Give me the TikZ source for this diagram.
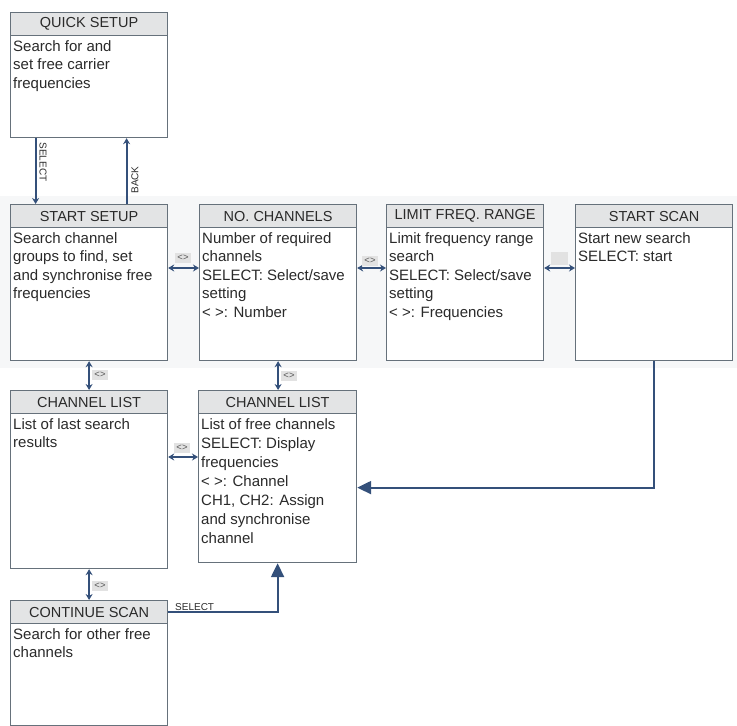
\documentclass[tikz,border=0pt]{standalone}
\usepackage{fontspec}
\setmainfont{Liberation Sans}
\usetikzlibrary{arrows.meta,calc}
\definecolor{bord}{HTML}{66717B}
\definecolor{hdr}{HTML}{E3E4E5}
\definecolor{arr}{HTML}{34507A}
\definecolor{bgband}{HTML}{F6F7F8}
\definecolor{lbl}{HTML}{E2E2E2}
\definecolor{txt}{HTML}{2A2A2A}
\newcommand\mypanel[7]{%
  \node[panel,minimum width=#4pt,minimum height=#5pt] (#1) at (#2,#3) {};
  \node[hd,minimum width=#4pt] (#1h) at (#1.north west) {#6};
  \node[bd] (#1b) at (#1h.south west) {#7};
}
\begin{document}
\begin{tikzpicture}[x=1pt,y=-1pt,
  panel/.style={draw=bord,line width=1.2pt,fill=white,anchor=north west,inner sep=0pt},
  hd/.style={draw=bord,line width=1.2pt,fill=hdr,anchor=north west,minimum height=23pt,inner sep=0pt,font=\fontsize{14.5}{16}\selectfont,text=txt},
  bd/.style={anchor=north west,align=left,inner xsep=3pt,inner ysep=4pt,font=\fontsize{15}{18.5}\selectfont,text=txt},
  dbl/.style={{Stealth[length=6pt,width=7pt]}-{Stealth[length=6pt,width=7pt]},line width=2pt,draw=arr},
  sgl/.style={-{Stealth[length=6pt,width=7pt]},line width=2pt,draw=arr},
  big/.style={-{Triangle[length=14pt,width=13pt]},line width=2.2pt,draw=arr},
  tag/.style={fill=lbl,inner xsep=2pt,inner ysep=2pt,font=\fontsize{9.5}{10}\selectfont,text=black!65},
  small/.style={inner sep=0pt,font=\fontsize{10}{11}\selectfont,text=txt}
]
\useasboundingbox (0,0) rectangle (737,726);
\fill[bgband] (0,196) rectangle (737,368);

\mypanel{qs}{10}{12}{157}{125}{QUICK SETUP}{Search for and\\set free carrier\\frequencies}
\mypanel{ss}{10}{204}{157}{156}{START SETUP}{Search channel\\groups to find, set\\and synchronise free\\frequencies}
\mypanel{nc}{199}{204}{157}{156}{NO. CHANNELS}{Number of required\\channels\\SELECT: Select/save\\setting\\< >: Number}
\mypanel{lf}{386}{204}{157}{156}{LIMIT FREQ. RANGE}{Limit frequency range\\search\\SELECT: Select/save\\setting\\< >: Frequencies}
\mypanel{sc}{575}{204}{157}{156}{START SCAN}{Start new search\\SELECT: start}
\mypanel{cla}{10}{390}{157}{178}{CHANNEL LIST}{List of last search\\results}
\node[panel,minimum width=158pt,minimum height=172pt] (clb) at (198,390) {};
\node[hd,minimum width=158pt] (clbh) at (clb.north west) {CHANNEL LIST};
\node[bd,font=\fontsize{15}{19}\selectfont] (clbb) at (clbh.south west) {List of free channels\\SELECT: Display\\frequencies\\< >: Channel\\CH1, CH2: Assign\\and synchronise\\channel};
\mypanel{cs}{10}{600}{157}{125}{CONTINUE SCAN}{Search for other free\\channels}

% quick setup <-> start setup
\draw[sgl] ([xshift=-53.5pt]qs.south) -- ([xshift=-53.5pt]ss.north);
\draw[sgl] ([xshift=37.5pt]ss.north) -- ([xshift=37.5pt]qs.south);
\node[small,rotate=-90] (lsel) at (43,162) {SELECT};
\node[small,rotate=90] (lback) at (135,180) {BACK};

% horizontal double arrows in first row
\draw[dbl] ([yshift=-64pt]ss.north east) -- ([yshift=-64pt]nc.north west);
\node[tag] (t1) at (183,258) {<>};
\draw[dbl] ([yshift=-64pt]nc.north east) -- ([yshift=-64pt]lf.north west);
\node[tag] (t2) at (370,261) {<>};
\draw[dbl] ([yshift=-64pt]lf.north east) -- ([yshift=-64pt]sc.north west);
\node[fill=lbl,minimum width=17pt,minimum height=13pt,inner sep=0pt] (t3) at (559,258) {};

% vertical double arrows
\draw[dbl] (ss.south) -- (cla.north);
\node[tag] (t4) at (100,375) {<>};
\draw[dbl] (nc.south) -- (nc.south |- clb.north);
\node[tag] (t5) at (289,376) {<>};
\draw[dbl] (cla.east |- 0,457) -- (clb.west |- 0,457);
\node[tag] (t6) at (182,448) {<>};
\draw[dbl] (cla.south) -- (cs.north);
\node[tag] (t7) at (100,586) {<>};

% start scan -> channel list
\draw[big] (sc.south) |- ([yshift=-11pt]clb.east);
% continue scan -> channel list
\draw[big] ([yshift=-12pt]cs.north east) -| (clb.south);
\node[small,anchor=south west] (lsel2) at (175,611) {SELECT};
\end{tikzpicture}
\end{document}
